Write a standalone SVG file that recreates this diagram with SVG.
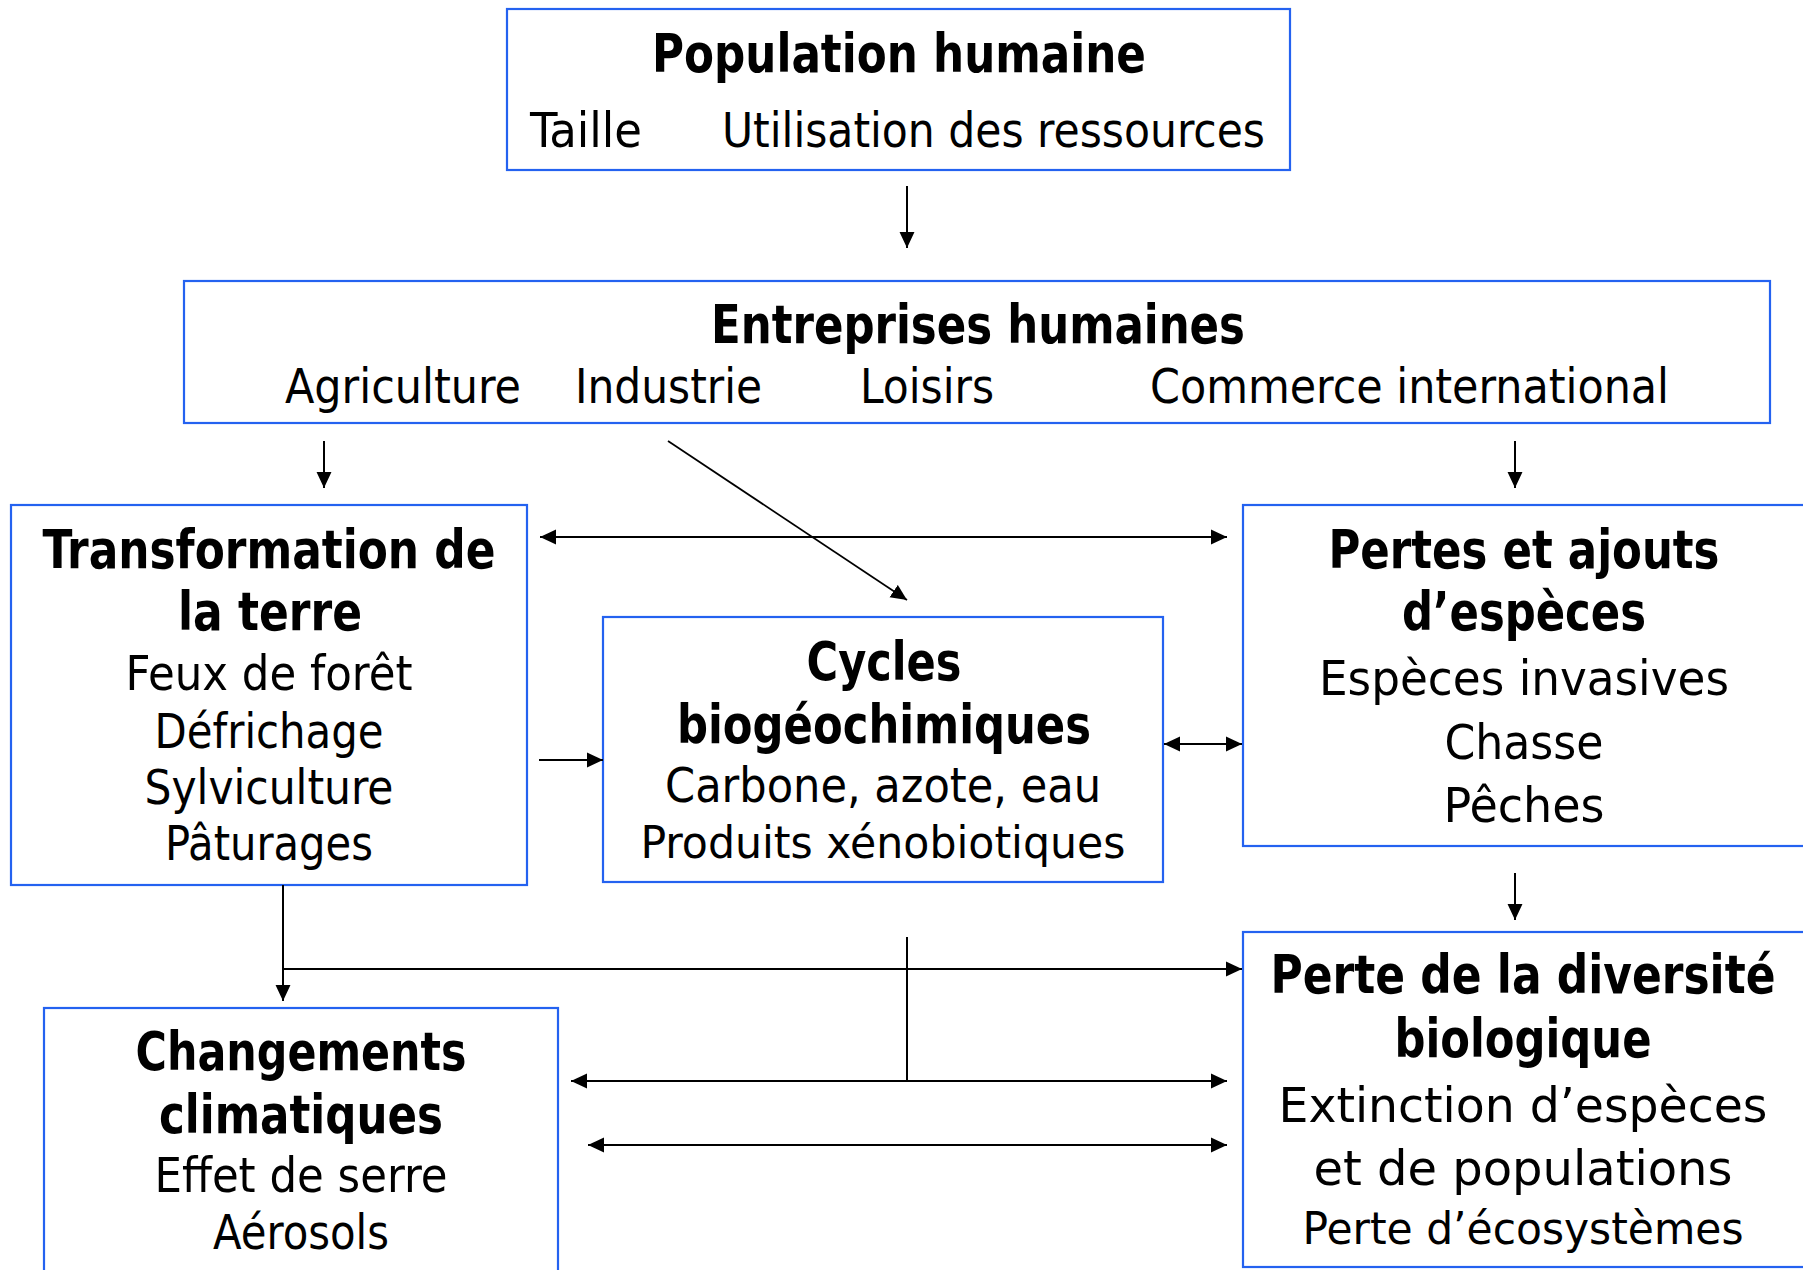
<svg xmlns="http://www.w3.org/2000/svg" width="1803" height="1270" viewBox="0 0 1803 1270">
<style>
.box{fill:#ffffff;stroke:#2462f0;stroke-width:2.2}
text{font-family:"DejaVu Sans Condensed","DejaVu Sans","Liberation Sans",sans-serif;fill:#000;text-anchor:middle}
.t{font-weight:bold;font-size:53px}
.s{font-size:48px}
.ss{font-size:45px}
.l{text-anchor:start}
.c{stroke:#000;stroke-width:2;fill:none}
</style>
<defs>
<marker id="ah" markerUnits="userSpaceOnUse" markerWidth="16" markerHeight="16" refX="15" refY="7" orient="auto-start-reverse" viewBox="0 0 15 14">
<path d="M0,0 L15,7 L0,14 z" fill="#000"/>
</marker>
</defs>
<rect width="1803" height="1270" fill="#fff"/>

<g id="population">
<rect class="box" x="507" y="9" width="783" height="161"/>
<text class="t" x="899" y="72" textLength="494" lengthAdjust="spacingAndGlyphs">Population humaine</text>
<text class="s l" x="530" y="147" textLength="112" lengthAdjust="spacingAndGlyphs">Taille</text>
<text class="s l" x="722" y="147" textLength="543" lengthAdjust="spacingAndGlyphs">Utilisation des ressources</text>
</g>

<g id="entreprises">
<rect class="box" x="184" y="281" width="1586" height="142"/>
<text class="t" x="978" y="343" textLength="534" lengthAdjust="spacingAndGlyphs">Entreprises humaines</text>
<text class="s l" x="285" y="403" textLength="236" lengthAdjust="spacingAndGlyphs">Agriculture</text>
<text class="s l" x="575" y="403" textLength="187" lengthAdjust="spacingAndGlyphs">Industrie</text>
<text class="s l" x="860" y="403" textLength="134" lengthAdjust="spacingAndGlyphs">Loisirs</text>
<text class="s l" x="1150" y="403" textLength="519" lengthAdjust="spacingAndGlyphs">Commerce international</text>
</g>

<g id="transformation">
<rect class="box" x="11" y="505" width="516" height="380"/>
<text class="t" x="269" y="568" textLength="453" lengthAdjust="spacingAndGlyphs">Transformation de</text>
<text class="t" x="270" y="630" textLength="184" lengthAdjust="spacingAndGlyphs">la terre</text>
<text class="s" x="269" y="690" textLength="287" lengthAdjust="spacingAndGlyphs">Feux de forêt</text>
<text class="s" x="269" y="748" textLength="229" lengthAdjust="spacingAndGlyphs">Défrichage</text>
<text class="s" x="269" y="804" textLength="249" lengthAdjust="spacingAndGlyphs">Sylviculture</text>
<text class="s" x="269" y="860" textLength="208" lengthAdjust="spacingAndGlyphs">Pâturages</text>
</g>

<g id="cycles">
<rect class="box" x="603" y="617" width="560" height="265"/>
<text class="t" x="884" y="680" textLength="155" lengthAdjust="spacingAndGlyphs">Cycles</text>
<text class="t" x="884" y="743" textLength="414" lengthAdjust="spacingAndGlyphs">biogéochimiques</text>
<text class="s" x="883" y="802" textLength="436" lengthAdjust="spacingAndGlyphs">Carbone, azote, eau</text>
<text class="ss" x="883" y="858" textLength="485" lengthAdjust="spacingAndGlyphs">Produits xénobiotiques</text>
</g>

<g id="pertes-ajouts">
<rect class="box" x="1243" y="505" width="565" height="341"/>
<text class="t" x="1524" y="568" textLength="391" lengthAdjust="spacingAndGlyphs">Pertes et ajouts</text>
<text class="t" x="1524" y="630" textLength="244" lengthAdjust="spacingAndGlyphs">d’espèces</text>
<text class="s" x="1524" y="695" textLength="410" lengthAdjust="spacingAndGlyphs">Espèces invasives</text>
<text class="s" x="1524" y="759" textLength="159" lengthAdjust="spacingAndGlyphs">Chasse</text>
<text class="s" x="1524" y="822" textLength="161" lengthAdjust="spacingAndGlyphs">Pêches</text>
</g>

<g id="changements">
<rect class="box" x="44" y="1008" width="514" height="280"/>
<text class="t" x="301" y="1070" textLength="331" lengthAdjust="spacingAndGlyphs">Changements</text>
<text class="t" x="301" y="1133" textLength="284" lengthAdjust="spacingAndGlyphs">climatiques</text>
<text class="s" x="301" y="1192" textLength="293" lengthAdjust="spacingAndGlyphs">Effet de serre</text>
<text class="s" x="301" y="1249" textLength="176" lengthAdjust="spacingAndGlyphs">Aérosols</text>
</g>

<g id="perte-diversite">
<rect class="box" x="1243" y="932" width="565" height="335"/>
<text class="t" x="1523" y="993" textLength="505" lengthAdjust="spacingAndGlyphs">Perte de la diversité</text>
<text class="t" x="1523" y="1057" textLength="257" lengthAdjust="spacingAndGlyphs">biologique</text>
<text class="s" x="1523" y="1122" textLength="489" lengthAdjust="spacingAndGlyphs">Extinction d’espèces</text>
<text class="s" x="1523" y="1185" textLength="419" lengthAdjust="spacingAndGlyphs">et de populations</text>
<text class="ss" x="1523" y="1244" textLength="441" lengthAdjust="spacingAndGlyphs">Perte d’écosystèmes</text>
</g>

<g id="connectors">
<line class="c" x1="907" y1="186" x2="907" y2="248" marker-end="url(#ah)"/>
<line class="c" x1="324" y1="441" x2="324" y2="488" marker-end="url(#ah)"/>
<line class="c" x1="1515" y1="441" x2="1515" y2="488" marker-end="url(#ah)"/>
<line class="c" x1="668" y1="441" x2="907" y2="600" marker-end="url(#ah)" style="stroke-width:1.7"/>
<line class="c" x1="540" y1="537" x2="1227" y2="537" marker-start="url(#ah)" marker-end="url(#ah)"/>
<line class="c" x1="539" y1="760" x2="603" y2="760" marker-end="url(#ah)"/>
<line class="c" x1="1164" y1="744" x2="1242" y2="744" marker-start="url(#ah)" marker-end="url(#ah)"/>
<line class="c" x1="1515" y1="873" x2="1515" y2="920" marker-end="url(#ah)"/>
<line class="c" x1="283" y1="885" x2="283" y2="1001" marker-end="url(#ah)"/>
<line class="c" x1="283" y1="969" x2="1242" y2="969" marker-end="url(#ah)"/>
<line class="c" x1="907" y1="937" x2="907" y2="1081"/>
<line class="c" x1="571" y1="1081" x2="1227" y2="1081" marker-start="url(#ah)" marker-end="url(#ah)"/>
<line class="c" x1="588" y1="1145" x2="1227" y2="1145" marker-start="url(#ah)" marker-end="url(#ah)"/>
</g>
</svg>
